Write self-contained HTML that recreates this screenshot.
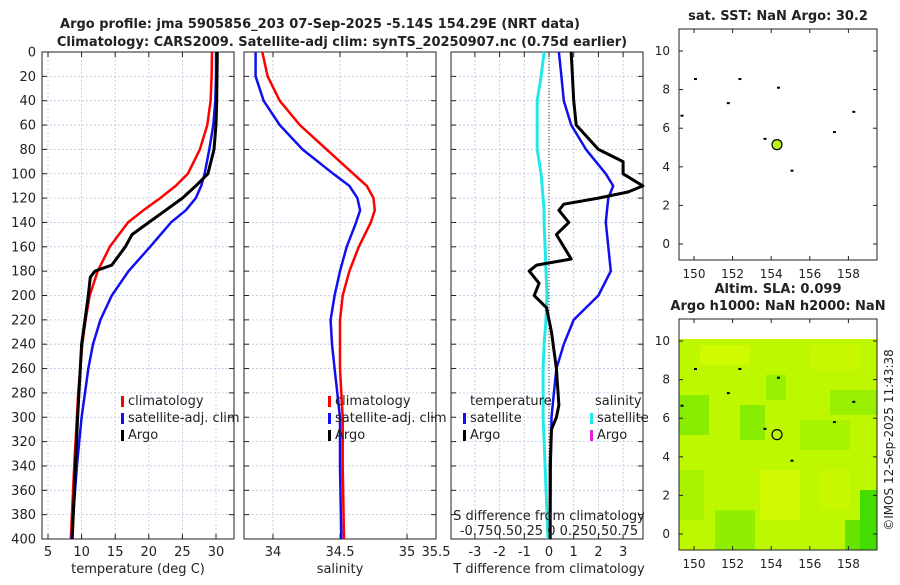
<!DOCTYPE html>
<html><head><meta charset="utf-8"><style>
body{margin:0;background:#fff;width:900px;height:580px;overflow:hidden;font-family:"Liberation Sans","DejaVu Sans",sans-serif}
svg text{font-family:"DejaVu Sans","Liberation Sans",sans-serif}
</style></head><body>
<svg id="c" width="900" height="580" xmlns="http://www.w3.org/2000/svg"></svg>
<script>
const depths=[0,20,40,60,80,100,110,120,130,140,160,180,200,220,240,260,280,300,340,400];
const tClim=[29.4,29.35,29.2,28.7,27.6,25.8,24.0,21.7,19.2,16.9,14.2,12.4,11.2,10.6,10.1,9.8,9.5,9.3,8.9,8.4];
const tSat=[30.0,30.0,29.9,29.6,29.0,28.3,27.8,27.0,25.5,23.3,20.2,17.0,14.5,12.8,11.7,11.0,10.5,10.0,9.3,8.5];
const argoDepths=[0,40,60,80,100,110,120,130,140,150,160,175,180,185,200,220,240,300,400];
const tArgo=[30.2,30.1,30.0,29.7,28.8,27.0,25.0,22.5,20.0,17.5,16.5,14.5,12.0,11.3,11.0,10.5,10.0,9.4,8.6];
const sClim=[33.92,33.96,34.05,34.2,34.4,34.6,34.7,34.75,34.76,34.73,34.64,34.57,34.52,34.5,34.5,34.5,34.51,34.52,34.52,34.53];
const sSat=[33.87,33.87,33.93,34.05,34.22,34.45,34.57,34.63,34.65,34.62,34.55,34.5,34.46,34.43,34.44,34.46,34.48,34.5,34.5,34.51];
const sDiffSat=[-0.05,-0.08,-0.12,-0.12,-0.12,-0.08,-0.07,-0.06,-0.05,-0.05,-0.04,-0.03,-0.02,-0.03,-0.05,-0.06,-0.06,-0.06,-0.04,-0.01];
const tDiffSat=[0.4,0.5,0.6,0.9,1.5,2.3,2.6,2.4,2.35,2.3,2.4,2.5,2.0,1.0,0.6,0.3,0.2,0.1,0.07,0.05];
const diffArgoDepths=[0,40,60,80,90,100,110,115,120,125,130,140,150,160,170,175,180,190,200,210,230,260,290,300,310,340,400];
const tDiffArgo=[0.9,1.0,1.1,2.0,3.0,3.0,3.8,3.2,2.0,0.6,0.4,0.8,0.3,0.6,0.9,-0.5,-0.8,-0.4,-0.6,-0.1,0.1,0.3,0.4,0.3,0.1,0.05,0.05];
const tTicks=[5,10,15,20,25,30];
const sTicks=[34,34.5,35];
const dTicks=[-3,-2,-1,0,1,2,3];
const depthTicks=[0,20,40,60,80,100,120,140,160,180,200,220,240,260,280,300,320,340,360,380,400];
const lonTicks=[150,152,154,156,158];
const latTicks=[0,2,4,6,8,10];
const argoLon=154.3, argoLat=5.15;

const NS="http://www.w3.org/2000/svg",svg=document.getElementById('c');
function el(t,a,p){const e=document.createElementNS(NS,t);for(const k in a)e.setAttribute(k,a[k]);(p||svg).appendChild(e);return e;}
function tx(x,y,s,a,p){const e=el('text',Object.assign({x:x,y:y,'font-size':13,fill:'#222'},a||{}),p);e.textContent=s;return e;}
const Y0=52,Y1=539;
const yD=d=>Y0+d*(Y1-Y0)/400;
const xT=v=>14.4+v*6.72;
const xS=v=>273+(v-34)*134;
const xDT=v=>549+v*24.7;
const xDS=v=>549+v*98.7;
const panels=[{x0:42,x1:234,name:'temperature-panel'},{x0:244,x1:436,name:'salinity-panel'},{x0:451,x1:643,name:'difference-panel'}];
const groups=panels.map(p=>{const g=el('g',{});return g;});
function grid(g,p,xs,xf,labels){
 xs.forEach(v=>{const x=xf(v);if(x>p.x0&&x<p.x1)el('line',{x1:x,x2:x,y1:Y0,y2:Y1,stroke:'#b8c4e0','stroke-dasharray':'2,2','stroke-width':0.8},g);});
 depthTicks.forEach(d=>{el('line',{x1:p.x0,x2:p.x1,y1:yD(d),y2:yD(d),stroke:'#b8c4e0','stroke-dasharray':'2,2','stroke-width':0.8},g);
  el('line',{x1:p.x0,x2:p.x0+5,y1:yD(d),y2:yD(d),stroke:'#222'},g);el('line',{x1:p.x1-5,x2:p.x1,y1:yD(d),y2:yD(d),stroke:'#222'},g);});
 xs.forEach((v,i)=>{const x=xf(v);el('line',{x1:x,x2:x,y1:Y1,y2:Y1-5,stroke:'#222'},g);el('line',{x1:x,x2:x,y1:Y0,y2:Y0+5,stroke:'#222'},g);tx(x,556,labels[i],{'text-anchor':'middle'},g);});
 el('rect',{x:p.x0,y:Y0,width:p.x1-p.x0,height:Y1-Y0,fill:'none',stroke:'#222'},g);
}
function line(g,ds,vs,xf,col,w,name){let d='';ds.forEach((dd,i)=>{d+=(i?'L':'M')+xf(vs[i]).toFixed(1)+','+yD(dd).toFixed(1);});
 const e=el('path',{d:d,fill:'none',stroke:col,'stroke-width':w,'stroke-linejoin':'round'},g);return e;}
grid(groups[0],panels[0],tTicks,xT,tTicks.map(String));
grid(groups[1],panels[1],sTicks,xS,['34','34.5','35']);
tx(436,556,'35.5',{'text-anchor':'middle'},groups[1]);
grid(groups[2],panels[2],dTicks,xDT,dTicks.map(String));
depthTicks.forEach(d=>tx(36,yD(d)+4.5,String(d),{'text-anchor':'end'}));
el('line',{x1:549,x2:549,y1:Y0,y2:Y1,stroke:'#333','stroke-dasharray':'1,2'},groups[2]);
line(groups[0],depths,tClim,xT,'#f00',2.5,'temp-climatology-line');
line(groups[0],depths,tSat,xT,'#1010ee',2.5,'temp-satellite-line');
line(groups[0],argoDepths,tArgo,xT,'#000',3,'temp-argo-line');
line(groups[1],depths,sClim,xS,'#f00',2.5,'sal-climatology-line');
line(groups[1],depths,sSat,xS,'#1010ee',2.5,'sal-satellite-line');
line(groups[2],depths,sDiffSat,xDS,'#22e8e8',3,'sdiff-satellite-line');
line(groups[2],depths,tDiffSat,xDT,'#1010ee',2.5,'tdiff-satellite-line');
line(groups[2],diffArgoDepths,tDiffArgo,xDT,'#000',3,'tdiff-argo-line');
tx(138,573,'temperature (deg C)',{'text-anchor':'middle'});
tx(340,573,'salinity',{'text-anchor':'middle'});
tx(549,573,'T difference from climatology',{'text-anchor':'middle'});
tx(549,520,'S difference from climatology',{'text-anchor':'middle'});
tx(549,535,'-0.750.50.25 0  0.250.50.75',{'text-anchor':'middle'});
tx(320,28,'Argo profile: jma 5905856_203 07-Sep-2025 -5.14S 154.29E (NRT data)',{'text-anchor':'middle','font-weight':'bold'});
tx(342,46,'Climatology: CARS2009. Satellite-adj clim: synTS_20250907.nc (0.75d earlier)',{'text-anchor':'middle','font-weight':'bold'});
function leg(x,y,col,s,g){el('rect',{x:x,y:y-9,width:3,height:11,fill:col},g);tx(x+7,y,s,{},g);}
leg(121,405,'#f00','climatology',groups[0]);leg(121,422,'#1010ee','satellite-adj. clim',groups[0]);leg(121,439,'#000','Argo',groups[0]);
leg(328,405,'#f00','climatology',groups[1]);leg(328,422,'#1010ee','satellite-adj. clim',groups[1]);leg(328,439,'#000','Argo',groups[1]);
tx(470,405,'temperature',{},groups[2]);tx(595,405,'salinity',{},groups[2]);
leg(463,422,'#1010ee','satellite',groups[2]);leg(463,439,'#000','Argo',groups[2]);
leg(590,422,'#22e8e8','satellite',groups[2]);leg(590,439,'#e020e0','Argo',groups[2]);
const xL=v=>694+(v-150)*19.3;
function map(top,title,name,green){const g=el('g',{});
 const yL=v=>top+215-v*19.3;
 if(green){el('rect',{x:679,y:339,width:198,height:211,fill:'#bef800'},g);
  const patches=[[679,395,30,40,'#88ec00'],[740,405,25,35,'#88ec00'],[766,375,20,25,'#98f000'],[800,420,50,30,'#a8f400'],[830,390,47,25,'#98f000'],[760,470,40,50,'#d0f800'],[820,470,30,40,'#c8f800'],[715,510,40,40,'#90ee00'],[860,490,17,60,'#44dd00'],[845,520,15,30,'#66e400'],[700,345,50,20,'#d0fa00'],[810,345,50,25,'#c8f800'],[679,470,25,50,'#a8f200']];
  patches.forEach(p=>el('rect',{x:p[0],y:p[1],width:p[2],height:p[3],fill:p[4]},g));}
 el('rect',{x:679,y:top,width:198,height:231,fill:'none',stroke:'#222'},g);
 lonTicks.forEach(v=>{el('line',{x1:xL(v),x2:xL(v),y1:top+231,y2:top+227,stroke:'#222'},g);el('line',{x1:xL(v),x2:xL(v),y1:top,y2:top+4,stroke:'#222'},g);tx(xL(v),top+249,String(v),{'text-anchor':'middle','font-size':12},g);});
 latTicks.forEach(v=>{el('line',{x1:679,x2:683,y1:yL(v),y2:yL(v),stroke:'#222'},g);el('line',{x1:873,x2:877,y1:yL(v),y2:yL(v),stroke:'#222'},g);tx(670,yL(v)+4,String(v),{'text-anchor':'end','font-size':12},g);});
 [[150,8.6],[151.7,7.35],[154.3,8.15],[158.2,6.9],[157.2,5.85],[152.3,8.6],[155,3.85],[153.6,5.5],[149.3,6.7]].forEach(p=>el('rect',{x:xL(p[0]),y:yL(p[1]),width:3,height:2,fill:'#000'},g));
 const c=el('circle',{cx:xL(argoLon),cy:yL(argoLat),r:5,fill:green?'none':'#b8f020',stroke:'#000','stroke-width':1.2},g);
 
 title.forEach((t,i)=>tx(778,top-9-(title.length-1-i)*17,t,{'text-anchor':'middle','font-weight':'bold'},g));
}
map(29,['sat. SST: NaN Argo: 30.2'],'sst-map',false);
map(319,['Altim. SLA: 0.099','Argo h1000: NaN h2000: NaN'],'sla-map',true);
tx(893,440,'©IMOS 12-Sep-2025 11:43:38',{'text-anchor':'middle','font-size':12,transform:'rotate(-90 893 440)'});
</script>
</body></html>
